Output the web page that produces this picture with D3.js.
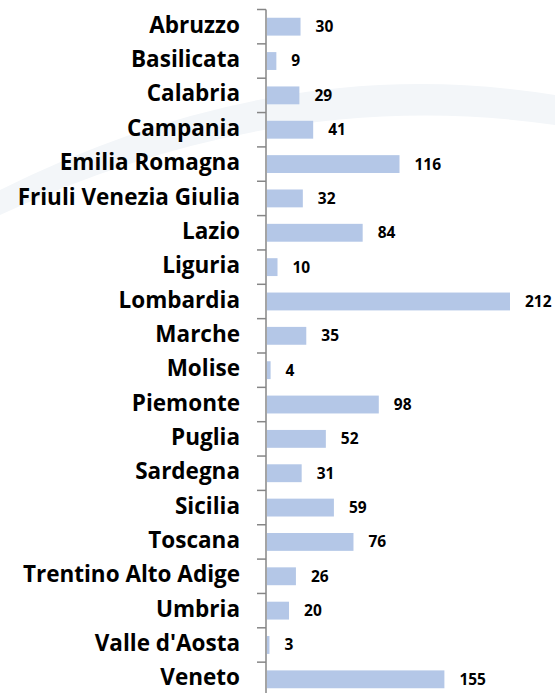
<!DOCTYPE html>
<html>
<head>
<meta charset="utf-8">
<script src="https://cdn.jsdelivr.net/npm/d3@7"></script>
<style>
  html, body { margin: 0; padding: 0; background: #fff; }
  svg { display: block; }
</style>
</head>
<body>
<div id="chart"></div>
<script>
// Regions (top to bottom) and their values
const regions = [
  "Abruzzo", "Basilicata", "Calabria", "Campania", "Emilia Romagna",
  "Friuli Venezia Giulia", "Lazio", "Liguria", "Lombardia", "Marche",
  "Molise", "Piemonte", "Puglia", "Sardegna", "Sicilia",
  "Toscana", "Trentino Alto Adige", "Umbria", "Valle d'Aosta", "Veneto"
];
const values = [30, 9, 29, 41, 116, 32, 84, 10, 212, 35, 4, 98, 52, 31, 59, 76, 26, 20, 3, 155];

const W = 555, H = 693;
const axisX = 266;
const topY = 9.5, step = 34.35;

const svg = d3.select("#chart").append("svg")
  .attr("width", W)
  .attr("height", H);

// faint watermark swoosh in the background
svg.append("path")
  .attr("d", "M0,190 Q280,50 555,95 L555,125 Q280,85 0,215 Z")
  .style("fill", "#f3f6f9");

const y = d3.scaleBand()
  .domain(regions)
  .range([topY, topY + step * regions.length])
  .paddingInner(0.48)
  .paddingOuter(0.24);

const x = d3.scaleLinear()
  .domain([0, 212])
  .range([axisX, 510]);

// bars
svg.selectAll(".bar")
  .data(regions)
  .enter()
  .append("rect")
  .attr("class", "bar")
  .attr("x", x(0) + 1)
  .attr("y", d => y(d))
  .attr("width", (d, i) => x(values[i]) - x(0) - 1)
  .attr("height", y.bandwidth())
  .style("fill", "#b4c7e7");

// axis with ticks at band boundaries
const axisG = svg.append("g");
axisG.append("line")
  .attr("x1", axisX).attr("x2", axisX)
  .attr("y1", topY).attr("y2", topY + step * regions.length)
  .style("stroke", "#868686")
  .style("stroke-width", 1.5);

const bounds = d3.range(regions.length + 1).map(i => topY + step * i);
axisG.selectAll(".tick")
  .data(bounds)
  .enter()
  .append("line")
  .attr("x1", axisX - 9).attr("x2", axisX)
  .attr("y1", d => d).attr("y2", d => d)
  .style("stroke", "#868686")
  .style("stroke-width", 1.5);

// category labels
svg.selectAll(".cat")
  .data(regions)
  .enter()
  .append("text")
  .attr("class", "cat")
  .attr("x", 240)
  .attr("y", d => y(d) + y.bandwidth() / 2)
  .attr("dy", "0.27em")
  .attr("text-anchor", "end")
  .style("font-family", "'Open Sans', sans-serif")
  .style("font-weight", "700")
  .style("font-size", "22.5px")
  .style("fill", "#000")
  .text(d => d);

// value labels
svg.selectAll(".val")
  .data(regions)
  .enter()
  .append("text")
  .attr("class", "val")
  .attr("x", (d, i) => x(values[i]) + 15)
  .attr("y", d => y(d) + y.bandwidth() / 2)
  .attr("dy", "0.35em")
  .style("font-family", "'Open Sans', sans-serif")
  .style("font-weight", "700")
  .style("font-size", "15.5px")
  .style("fill", "#000")
  .text((d, i) => values[i]);
</script>
</body>
</html>
